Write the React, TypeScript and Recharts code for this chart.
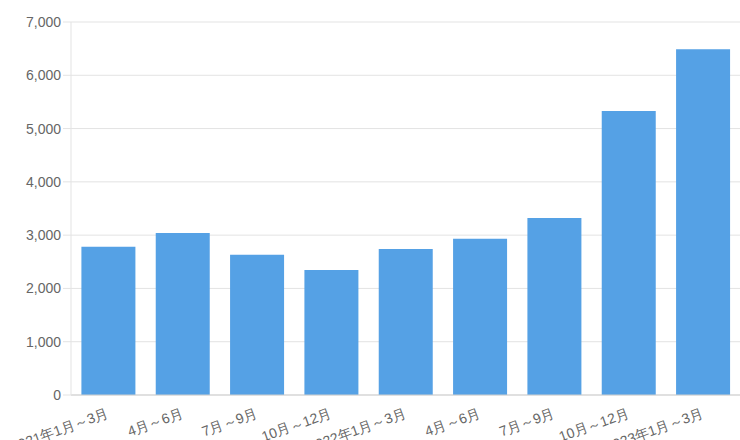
import { BarChart, Bar, XAxis, YAxis, CartesianGrid } from 'recharts';

const categories = [
  '2021年1月～3月',
  '4月～6月',
  '7月～9月',
  '10月～12月',
  '2022年1月～3月',
  '4月～6月 ',
  '7月～9月 ',
  '10月～12月 ',
  '2023年1月～3月',
];
const values = [2780, 3040, 2630, 2345, 2740, 2930, 3320, 5330, 6490];
const yTicks = [0, 1000, 2000, 3000, 4000, 5000, 6000, 7000];

const chartData = categories.map((name, i) => ({ name, value: values[i] }));

const formatNumber = (v: number): string => v.toLocaleString('en-US');

const AngledTick = (props: any) => {
  const { x, y, payload } = props;
  return (
    <g transform={`translate(${x},${y + 10})`}>
      <text
        x={0}
        y={0}
        dy={4}
        textAnchor="end"
        fill="#666"
        fontSize={14}
        transform="rotate(-20)"
      >
        {String(payload.value).trim()}
      </text>
    </g>
  );
};

const App = () => {
  if (typeof document !== 'undefined') document.body.style.margin = '0';
  return (
    <div style={{ width: 740, height: 440, fontFamily: '"Liberation Sans", Arial, sans-serif' }}>
      <BarChart
        width={740}
        height={440}
        data={chartData}
        margin={{ top: 22, right: 0, left: 0, bottom: 0 }}
        barCategoryGap="14%"
      >
        <CartesianGrid stroke="#e3e3e3" vertical={false} />
        <XAxis
          dataKey="name"
          height={45}
          interval={0}
          stroke="#cfcfcf"
          tickLine={false}
          tick={<AngledTick />}
        />
        <YAxis
          width={71}
          domain={[0, 7000]}
          ticks={yTicks}
          stroke="#e3e3e3"
          tickSize={8}
          tick={{ fill: '#666', fontSize: 14 }}
          tickFormatter={formatNumber}
        />
        <Bar dataKey="value" fill="#55a1e5" isAnimationActive={false} />
      </BarChart>
    </div>
  );
};

export default App;
